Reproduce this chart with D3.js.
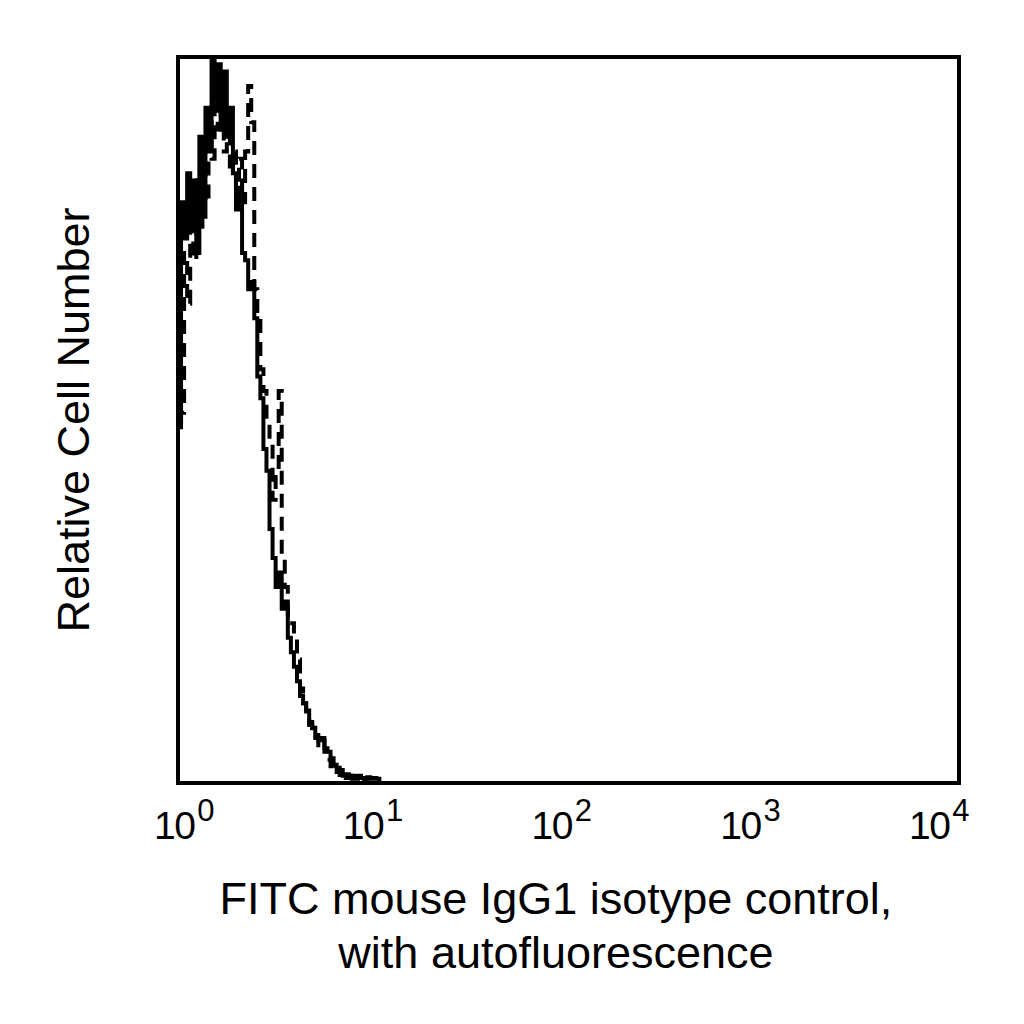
<!DOCTYPE html>
<html>
<head>
<meta charset="utf-8">
<script src="https://cdn.jsdelivr.net/npm/d3@7"></script>
<style>
  body { margin: 0; background: #fff; }
  svg text { font-family: "Liberation Sans", Arial, sans-serif; fill: #000; }
</style>
</head>
<body>
<div id="vis"></div>
<script>
// channel counts, 256 channels over 4 decades (relative, peak = 100)
const solidCounts = [49, 80, 75, 84, 76, 83, 73, 89, 78, 93, 87, 100, 94, 99, 90, 98,
  89, 93, 84, 79, 82, 73, 72, 68, 69, 64, 56, 53, 46, 43, 35, 31, 27, 29, 24, 25,
  20, 18, 16, 14, 12, 11, 10, 8.4, 7.6, 6.6, 5.9, 6.2, 4.8, 4.3, 3.4, 2.5, 1.5, 1.8,
  1.0, 1.2, 0.7, 1.0, 0.6, 1.0, 0.7, 0.4, 0.8, 0.6, 0.7, 0.6, 0];
const dashedCounts = [50, 51, 73, 66, 78, 72, 83, 76, 87, 80, 91, 86, 96, 90, 94, 87,
  91, 84, 87, 82, 86, 80, 87, 96, 91, 68, 65, 57, 54, 50, 47, 39, 43, 54, 31, 27,
  22, 22, 20, 17, 13, 11, 9.4, 8, 7, 6.2, 5.2, 5.9, 4.3, 3.2, 2.3, 1.8, 2.1, 1.1,
  1.5, 0.7, 1.0, 0.6, 0];
const decades = [1, 10, 100, 1000, 10000];
const xTitle = ['FITC mouse IgG1 isotype control,', 'with autofluorescence'];
const yTitle = 'Relative Cell Number';

const W = 1024, H = 1024;
const plot = { left: 178, right: 959, top: 57, bottom: 783 };
const channelsPerDecade = 64;

const $svg = d3.select('#vis').append('svg')
  .attr('width', W)
  .attr('height', H);

const x = d3.scaleLog().domain([1, 1e4]).range([plot.left, plot.right]);
const y = d3.scaleLinear().domain([0, 100]).range([plot.bottom, plot.top]);
// the printed decade labels sit on a slightly tighter spacing than the frame
const xLabel = d3.scaleLog().domain([1, 1e4]).range([183, 938]);

const chan = i => Math.pow(10, i / channelsPerDecade);

$svg.append('clipPath').attr('id', 'clip')
  .append('rect')
  .attr('x', plot.left).attr('y', plot.top)
  .attr('width', plot.right - plot.left).attr('height', plot.bottom - plot.top);

const line = d3.line()
  .x(d => x(d.v))
  .y(d => y(d.c))
  .curve(d3.curveStepAfter);

function toPoints(counts) {
  return counts.map((c, i) => ({ v: chan(i), c }));
}

const $hist = $svg.append('g').attr('clip-path', 'url(#clip)');

$hist.append('path')
  .datum(toPoints(dashedCounts))
  .attr('d', line)
  .attr('fill', 'none')
  .attr('stroke', '#000')
  .attr('stroke-width', 4)
  .attr('stroke-dasharray', '14,9');

$hist.append('path')
  .datum(toPoints(solidCounts))
  .attr('d', line)
  .attr('fill', 'none')
  .attr('stroke', '#000')
  .attr('stroke-width', 4);

// frame
$svg.append('rect')
  .attr('x', plot.left).attr('y', plot.top)
  .attr('width', plot.right - plot.left).attr('height', plot.bottom - plot.top)
  .attr('fill', 'none')
  .attr('stroke', '#000')
  .attr('stroke-width', 4);

// x axis: labels only, as 10^n
const xAxis = d3.axisBottom(xLabel).tickValues(decades).tickSize(0).tickFormat('');
const $xa = $svg.append('g')
  .attr('transform', `translate(0, ${plot.bottom})`)
  .call(xAxis);
$xa.select('.domain').remove();
$xa.selectAll('.tick text').remove();
$xa.selectAll('.tick').append('text')
  .attr('y', 56)
  .attr('text-anchor', 'middle')
  .style('font-size', '39px')
  .style('letter-spacing', '-1.5px')
  .each(function(d) {
    const t = d3.select(this);
    t.append('tspan').text('10');
    t.append('tspan')
      .attr('dx', 3)
      .attr('dy', -18)
      .style('font-size', '31px')
      .text(Math.round(Math.log10(d)));
  });

// axis titles
$svg.append('text')
  .attr('text-anchor', 'middle')
  .style('font-size', '45px')
  .selectAll('tspan')
  .data(xTitle)
  .enter()
  .append('tspan')
  .attr('x', 556)
  .attr('y', (d, i) => 914 + i * 54)
  .text(d => d);

$svg.append('text')
  .attr('transform', `translate(89, ${(plot.top + plot.bottom) / 2}) rotate(-90)`)
  .attr('text-anchor', 'middle')
  .style('font-size', '45px')
  .text(yTitle);
</script>
</body>
</html>
